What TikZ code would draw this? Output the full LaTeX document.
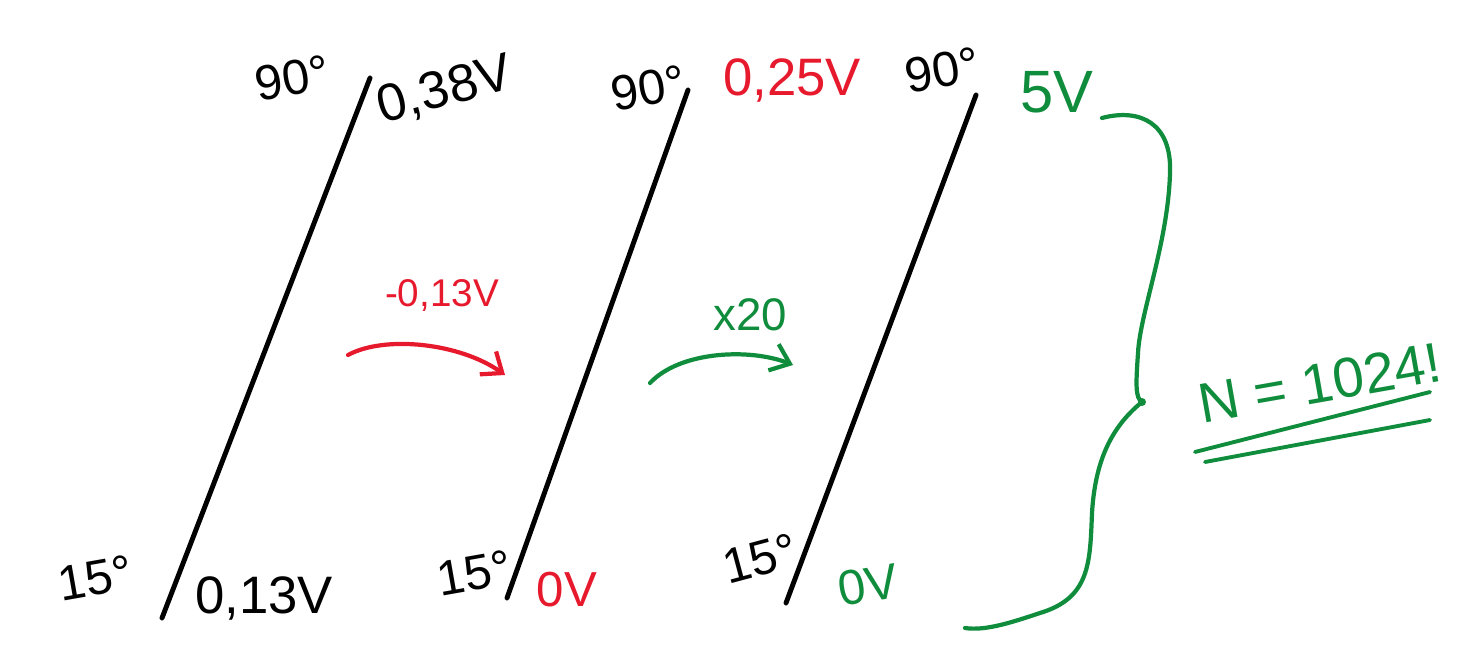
\documentclass[tikz,border=0pt]{standalone}
\usepackage{fontspec}
\setmainfont{Liberation Sans}
\usetikzlibrary{arrows.meta}
\definecolor{penred}{RGB}{230,25,45}
\definecolor{pengreen}{RGB}{15,140,60}
\tikzset{
  pen/.style={line width=2.8pt, line cap=round},
  lbl/.style={inner sep=0pt, font=\fontsize{28}{32}\selectfont},
  sweep/.style={pen, line width=2.4pt, -{Straight Barb[length=10pt,width=16pt]}}
}
\begin{document}
\begin{tikzpicture}[x=0.02cm,y=0.02cm]
\useasboundingbox (0,0) rectangle (1474,653);
% scale lines
\coordinate (lo1) at (162,35);  \coordinate (hi1) at (370,575);
\coordinate (lo2) at (507,55);  \coordinate (hi2) at (688,563);
\coordinate (lo3) at (786,50);  \coordinate (hi3) at (976,558);
\draw[pen] (lo1) -- (hi1);
\draw[pen] (lo2) -- (hi2);
\draw[pen] (lo3) -- (hi3);
% first scale
\node[lbl, rotate=10] (top1) at (292,575) {90°};
\node[lbl, rotate=15, font=\fontsize{30}{34}\selectfont] (vtop1) at (445,562) {0,38V};
\node[lbl, rotate=10] (bot1) at (95,75) {15°};
\node[lbl, font=\fontsize{30}{34}\selectfont] (vbot1) at (264,55) {0,13V};
% second scale
\node[lbl, rotate=10] (top2) at (648,565) {90°};
\node[lbl, text=penred, font=\fontsize{30}{34}\selectfont] (vtop2) at (792,573) {0,25V};
\node[lbl, rotate=10] (bot2) at (474,80) {15°};
\node[lbl, text=penred] (vbot2) at (567,63) {0V};
% third scale
\node[lbl, rotate=10] (top3) at (942,583) {90°};
\node[lbl, text=pengreen, font=\fontsize{34}{38}\selectfont] (vtop3) at (1057,561) {5V};
\node[lbl, rotate=15] (bot3) at (760,94) {15°};
\node[lbl, text=pengreen, rotate=10] (vbot3) at (868,68) {0V};
% offset step
\node[lbl, text=penred, font=\fontsize{22}{26}\selectfont] (shift) at (442,358) {-0,13V};
\coordinate (s0) at (348,298); \coordinate (s1) at (505,278);
\draw[sweep, penred] (s0) .. controls (385,318) and (460,310) .. (s1);
% gain step
\node[lbl, text=pengreen, font=\fontsize{26}{30}\selectfont] (gain) at (750,338) {x20};
\coordinate (g0) at (650,270); \coordinate (g1) at (793,288);
\draw[sweep, pengreen] (g0) .. controls (680,302) and (750,305) .. (g1);
% brace
\coordinate (b0) at (1102,535); \coordinate (bm) at (1142,251); \coordinate (b1) at (965,25);
\draw[pen, pengreen, line width=2.4pt] (b0) .. controls (1140,545) and (1172,530) .. (1170,480)
  .. controls (1168,410) and (1140,340) .. (1138,300)
  .. controls (1136,270) and (1135,255) .. (bm)
  .. controls (1110,225) and (1095,190) .. (1092,140)
  .. controls (1090,90) and (1090,55) .. (1040,40)
  .. controls (1010,30) and (985,22) .. (b1);
\fill[pengreen] (bm) circle (4);
% result
\node[lbl, text=pengreen, rotate=10, font=\fontsize{32}{36}\selectfont] (res) at (1320,270) {N = 1024!};
\coordinate (u0) at (1195,201); \coordinate (u1) at (1430,261);
\coordinate (w0) at (1205,191); \coordinate (w1) at (1430,233);
\draw[pen, pengreen, line width=2.2pt] (u0) -- (u1);
\draw[pen, pengreen, line width=2.2pt] (w0) -- (w1);
\end{tikzpicture}
\end{document}
